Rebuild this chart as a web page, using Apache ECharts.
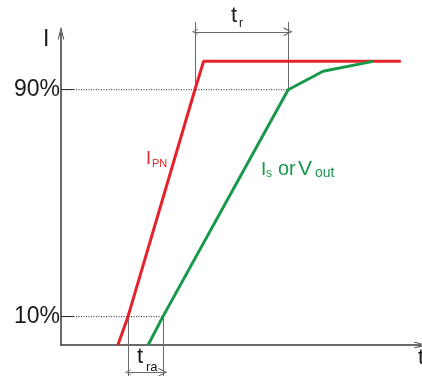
<!DOCTYPE html>
<html>
<head>
<meta charset="utf-8">
<script src="https://cdn.jsdelivr.net/npm/echarts@6/dist/echarts.min.js"></script>
<style>
  html, body { margin: 0; padding: 0; background: #fff; }
  #chart { width: 422px; height: 376px; }
</style>
</head>
<body>
<div id="chart"></div>
<script>
// 原边电流 I_PN（横轴 t，纵轴为百分比）
const redT = [15.8, 18.6, 37.2, 39.6, 94.4];
const redI = [0, 10, 90, 100, 100];
// 副边输出 Is or Vout
const greenT = [24.2, 28.3, 63.1, 72.8, 86.7];
const greenI = [0, 10, 90, 96.5, 100];
// 纵轴刻度
const levelValues = [10, 90];
const levelLabels = ['10%', '90%'];

const FONT = '"Liberation Sans", Arial, sans-serif';
const AXIS_COLOR = '#3a3a3a';
const DIM_COLOR = '#6a6a6a';
// 空心箭头
const chevron = 'path://M0,20 L5,0 L10,20 L8.6,20 L5,5.5 L1.4,20 Z';

let chart = echarts.init(document.getElementById('chart'), null, { renderer: 'canvas' });

let zip = (xs, ys) => xs.map((x, i) => [x, ys[i]]);

// 10% / 90% 虚线：从纵轴到绿色曲线的交点
let levelSeries = levelValues.map(v => {
  let idx = greenI.indexOf(v);
  return {
    type: 'line',
    silent: true,
    symbol: 'none',
    z: 1,
    lineStyle: { color: '#222', width: 1, type: [1, 1.5] },
    data: [[0, v], [greenT[idx], v]]
  };
});

// t_r 与 t_ra 的尺寸线
let i90 = redI.indexOf(90), g90 = greenI.indexOf(90);
let i10 = redI.indexOf(10), g10 = greenI.indexOf(10);
let extLines = [
  { coords: [[redT[i90], 90], [redT[i90], 113.9]] },
  { coords: [[greenT[g90], 90], [greenT[g90], 113.9]] },
  { coords: [[redT[i10], 10], [redT[i10], -11.5]] },
  { coords: [[greenT[g10], 10], [greenT[g10], -11.5]] }
];
let arrowLines = [
  { coords: [[redT[i90], 110.4], [greenT[g90], 110.4]] },
  { coords: [[redT[i10], -9.6], [greenT[g10], -9.6]] }
];

function txt(text, x, y, size, color) {
  return {
    type: 'text',
    silent: true,
    z: 100,
    style: {
      text: text, x: x, y: y,
      fontSize: size, fontFamily: FONT,
      fill: color, align: 'left', verticalAlign: 'middle'
    }
  };
}

const RED = '#e5222a';
const GREEN = '#17984a';

let option = {
  backgroundColor: '#fff',
  animation: false,
  grid: { left: 61, right: 1, top: 33, bottom: 31, containLabel: false },
  xAxis: {
    type: 'value',
    min: 0,
    max: 100,
    splitLine: { show: false },
    axisTick: { show: false },
    axisLabel: { show: false },
    axisLine: {
      show: true,
      symbol: ['none', chevron],
      symbolSize: [8, 13],
      lineStyle: { color: AXIS_COLOR, width: 1.5 }
    }
  },
  yAxis: {
    type: 'value',
    min: 0,
    max: 110,
    splitLine: { show: false },
    axisLine: {
      show: true,
      symbol: ['none', chevron],
      symbolSize: [8, 13],
      lineStyle: { color: AXIS_COLOR, width: 1.5 }
    },
    axisTick: {
      show: true,
      inside: true,
      length: 13,
      customValues: levelValues,
      lineStyle: { color: AXIS_COLOR, width: 1 }
    },
    axisLabel: {
      customValues: levelValues,
      formatter: v => levelLabels[levelValues.indexOf(v)],
      fontSize: 23,
      fontFamily: FONT,
      color: '#1a1a1a',
      margin: 1
    }
  },
  series: [
    ...levelSeries,
    {
      type: 'lines',
      coordinateSystem: 'cartesian2d',
      silent: true,
      clip: false,
      symbol: 'none',
      z: 2,
      lineStyle: { color: DIM_COLOR, width: 1, opacity: 1 },
      data: extLines
    },
    {
      type: 'lines',
      coordinateSystem: 'cartesian2d',
      silent: true,
      clip: false,
      symbol: [chevron, chevron],
      symbolSize: [6, 9],
      z: 2,
      lineStyle: { color: DIM_COLOR, width: 1, opacity: 1 },
      data: arrowLines
    },
    {
      name: 'I_PN',
      type: 'line',
      symbol: 'none',
      z: 5,
      lineStyle: { color: RED, width: 3 },
      data: zip(redT, redI)
    },
    {
      name: 'Is or Vout',
      type: 'line',
      symbol: 'none',
      z: 6,
      lineStyle: { color: GREEN, width: 3 },
      data: zip(greenT, greenI)
    }
  ],
  graphic: [
    txt('I', 43, 40, 23, '#1a1a1a'),
    txt('t', 231, 16, 22, '#1a1a1a'),
    txt('r', 239, 24, 12, '#1a1a1a'),
    txt('I', 146, 159, 18, RED),
    txt('PN', 152, 164, 11, RED),
    txt('I', 261, 169.5, 19, GREEN),
    txt('s', 266, 174, 12, GREEN),
    txt('or', 278, 169, 20, GREEN),
    txt('V', 298, 169, 21, GREEN),
    txt('out', 315, 173, 14, GREEN),
    txt('t', 137, 357, 22, '#1a1a1a'),
    txt('ra', 146, 367.5, 13, '#1a1a1a'),
    txt('t', 418, 358, 22, '#1a1a1a')
  ]
};

chart.setOption(option);
window.onresize = function () {
  chart.resize();
};
</script>
</body>
</html>
